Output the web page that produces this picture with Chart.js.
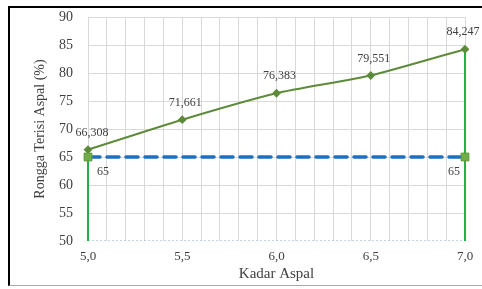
<!DOCTYPE html>
<html><head><meta charset="utf-8">
<script src="https://cdn.jsdelivr.net/npm/chart.js@4/dist/chart.umd.min.js"></script>
<style>
html,body{margin:0;padding:0;background:#fff;}
#wrap{position:relative;width:482px;height:289px;}
#frame{position:absolute;left:8px;top:6px;width:480px;height:280px;border-top:2px solid #000;border-left:2px solid #000;border-bottom:1px solid #aaa;box-sizing:border-box;pointer-events:none;}
canvas{position:absolute;left:0;top:0;}
</style></head><body>
<div id="wrap"><canvas id="c" width="482" height="289"></canvas><div id="frame"></div></div>
<script>
const kadarAspal = [5.0, 5.5, 6.0, 6.5, 7.0];
const vfa = [66.308, 71.661, 76.383, 79.551, 84.247];
const batasMin = 65;
const yTicks = [50, 55, 60, 65, 70, 75, 80, 85, 90];
const xTickLabels = ['5,0', '5,5', '6,0', '6,5', '7,0'];
const fmt = v => v.toFixed(3).replace('.', ',');

const mainPts = kadarAspal.map((x, i) => ({x, y: vfa[i]}));
const xMin = kadarAspal[0], xMax = kadarAspal[kadarAspal.length - 1];
const yMin = yTicks[0], yMax = yTicks[yTicks.length - 1];

const labelPlugin = {
  id: 'labels',
  afterDatasetsDraw(chart) {
    const {ctx, scales: {x, y}} = chart;
    ctx.save();
    ctx.font = '12px "Liberation Serif", "DejaVu Serif", serif';
    ctx.fillStyle = '#404040';
    ctx.textBaseline = 'middle';
    ctx.textAlign = 'center';
    mainPts.forEach((p, i) => {
      const px = x.getPixelForValue(p.x), py = y.getPixelForValue(p.y);
      let dx = 3;
      if (i === 0) dx = 4;
      if (i === mainPts.length - 1) dx = -2;
      ctx.fillText(fmt(p.y), px + dx, py - 17);
    });
    const yb = y.getPixelForValue(batasMin) + 15;
    ctx.textAlign = 'left';
    ctx.fillText(String(batasMin), x.getPixelForValue(xMin) + 9, yb);
    ctx.textAlign = 'right';
    ctx.fillText(String(batasMin), x.getPixelForValue(xMax) - 5, yb);
    ctx.restore();
  }
};

new Chart(document.getElementById('c'), {
  type: 'line',
  data: {
    datasets: [
      { data: [{x: xMin, y: yMin}, {x: xMax, y: yMin}], borderColor: '#7fb2e0', borderWidth: 1, borderDash: [2, 2], pointRadius: 0, order: 6 },
      { data: [{x: xMin, y: yMin}, {x: xMin, y: batasMin}], borderColor: '#22b04b', borderWidth: 2, pointRadius: 0, order: 4, clip: false },
      { data: [{x: xMax, y: yMin}, {x: xMax, y: vfa[vfa.length - 1]}], borderColor: '#22b04b', borderWidth: 2, pointRadius: 0, order: 4, clip: false },
      { data: [{x: xMin, y: batasMin}, {x: xMax, y: batasMin}], borderColor: '#1f6fc0', borderWidth: 3.5, borderDash: [12, 7], borderCapStyle: 'round', pointRadius: 0, order: 3 },
      { data: mainPts, borderColor: '#5e8b3a', borderWidth: 2, tension: 0.2, pointStyle: 'rectRot', pointRadius: 3, pointBackgroundColor: '#5e8b3a', pointBorderColor: '#5e8b3a', order: 2, clip: false },
      { data: [{x: xMin, y: batasMin}, {x: xMax, y: batasMin}], showLine: false, pointStyle: 'rect', pointRadius: 5.5, pointBackgroundColor: '#70ad47', pointBorderColor: '#5a9a35', pointBorderWidth: 1, order: 1, clip: false }
    ]
  },
  options: {
    responsive: false,
    animation: false,
    events: [],
    layout: { padding: { left: 30, top: 17, right: 17, bottom: 6 } },
    plugins: { legend: { display: false }, tooltip: { enabled: false } },
    scales: {
      x: {
        type: 'linear', min: xMin, max: xMax,
        afterFit(s) { s.height = 42; },
        afterBuildTicks(s) {
          const t = [];
          for (let i = 0; i <= 20; i++) t.push({value: +(xMin + i * 0.1).toFixed(1)});
          s.ticks = t;
        },
        grid: { color: '#d9d9d9', lineWidth: 1, drawTicks: false },
        border: { display: false },
        ticks: {
          autoSkip: false, maxRotation: 0, padding: 8, color: '#404040',
          font: { family: '"Liberation Serif", serif', size: 13 },
          callback(v) {
            const idx = kadarAspal.findIndex(k => Math.abs(k - v) < 1e-6);
            return idx >= 0 ? xTickLabels[idx] : '';
          }
        },
        title: { display: true, text: 'Kadar Aspal', color: '#404040', font: { family: '"Liberation Serif", serif', size: 15 }, padding: { top: 4, bottom: 0 } }
      },
      y: {
        min: yMin, max: yMax,
        afterFit(s) { s.width = 58; },
        afterBuildTicks(s) { s.ticks = yTicks.map(v => ({value: v})); },
        grid: { color: (c) => c.tick && c.tick.value === yMin ? 'rgba(0,0,0,0)' : '#d9d9d9', lineWidth: 1, drawTicks: true, tickLength: 15, tickColor: 'rgba(0,0,0,0)' },
        border: { display: false },
        ticks: { padding: 0, color: '#404040', font: { family: '"Liberation Serif", serif', size: 14 } },
        title: { display: true, text: 'Rongga Terisi Aspal (%)', color: '#404040', font: { family: '"Liberation Serif", serif', size: 14 }, padding: { top: 2, bottom: 0 } }
      }
    }
  },
  plugins: [labelPlugin]
});
</script>
</body></html>
